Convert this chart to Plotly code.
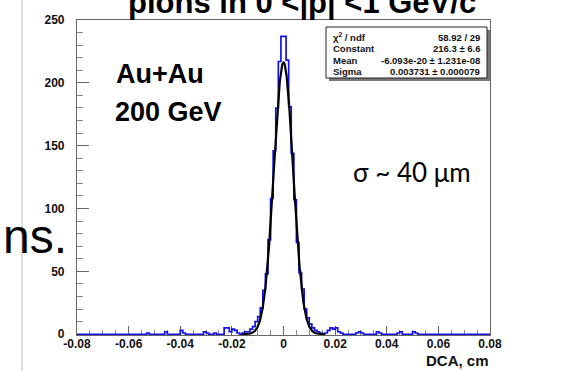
import numpy as np
import plotly.graph_objects as go

# ---------------- data ----------------
bin_low = -0.08
bin_width = 0.001
# histogram counts, left half (bins from -0.080 up to 0.000)
counts_left = [
    0, 0, 0, 0, 0, 0, 0, 0, 0, 0,
    0, 0, 0, 0, 0, 0, 0, 0, 0, 0,
    0, 0, 0, 0, 0, 0, 0, 1, 0, 0,
    0, 0, 0, 0, 2, 0, 0, 0, 0, 0,
    3, 1, 0, 0, 0, 0, 0, 0, 0, 2,
    1, 0, 0, 1, 0, 0, 0, 5, 5, 2,
    4, 3, 1, 0, 1, 2, 2, 4, 6, 10,
    14, 21, 35, 48, 75, 108, 146, 180, 217, 237,
]
# histogram counts, right half (bins from 0.000 up to 0.080)
counts_right = [
    237, 218, 181, 144, 107, 73, 49, 36, 20, 13,
    8, 5, 3, 2, 1, 0, 1, 3, 5, 4,
    5, 2, 1, 0, 0, 0, 0, 0, 1, 2,
    1, 0, 0, 0, 0, 0, 2, 1, 0, 0,
    0, 0, 0, 0, 1, 2, 0, 0, 0, 0,
    2, 1, 0, 0, 0, 0, 0, 0, 0, 0,
    0, 0, 0, 0, 0, 0, 0, 0, 0, 0,
    0, 0, 0, 0, 0, 0, 0, 0, 0, 0,
]
# gaussian fit parameters
fit_constant = 216.3
fit_mean = -6.093e-20
fit_sigma = 0.003731
fit_range = [-0.016, 0.016]

x_tickvals = [-0.08, -0.06, -0.04, -0.02, 0, 0.02, 0.04, 0.06, 0.08]
x_ticktext = ["-0.08", "-0.06", "-0.04", "-0.02", "0", "0.02", "0.04", "0.06", "0.08"]
y_tickvals = [0, 50, 100, 150, 200, 250]
y_ticktext = ["0", "50", "100", "150", "200", "250"]

stat_names = ["\u03c7<sup>2</sup> / ndf", "Constant", "Mean", "Sigma"]
stat_values = ["58.92 / 29", "216.3 \u00b1 6.6", "-6.093e-20 \u00b1 1.231e-08", "0.003731 \u00b1 0.000079"]

# ---------------- layout helpers ----------------
W, H = 562, 371
L, R, T, B = 77, 490, 20, 335


def px(x):
    return (x - L) / (R - L)


def py(y):
    return (B - y) / (B - T)


counts = counts_left + counts_right
edges = [bin_low + bin_width * i for i in range(len(counts) + 1)]
hx = edges
hy = counts + [counts[-1]]

fx = np.linspace(fit_range[0], fit_range[1], 400)
fy = fit_constant * np.exp(-0.5 * ((fx - fit_mean) / fit_sigma) ** 2)

fig = go.Figure()
fig.add_trace(go.Scatter(x=hx, y=hy, mode="lines", line=dict(color="#1010ee", width=1.7, shape="hv"),
                         hoverinfo="skip"))
fig.add_trace(go.Scatter(x=fx, y=fy, mode="lines", line=dict(color="#000000", width=2.2),
                         hoverinfo="skip"))

font_b = "Liberation Sans"
axis_col = "#666666"

fig.update_layout(
    width=W, height=H,
    margin=dict(l=L, r=W - R, t=T, b=H - B, pad=0),
    paper_bgcolor="white", plot_bgcolor="white",
    showlegend=False,
    xaxis=dict(range=[-0.08, 0.08], showgrid=False, zeroline=False,
               showline=True, linecolor=axis_col, linewidth=1.2, mirror=True,
               ticks="inside", ticklen=9, tickwidth=1.2, tickcolor=axis_col,
               tickvals=x_tickvals, ticktext=x_ticktext,
               minor=dict(ticks="inside", ticklen=5, tickwidth=1, tickcolor="#888888", dtick=0.005, tick0=-0.08, showgrid=False),
               tickfont=dict(family=font_b, size=12, color="#111111", weight="bold"),
               ticklabelstandoff=-3,
               layer="below traces"),
    yaxis=dict(range=[-0.6, 250], showgrid=False, zeroline=False,
               showline=True, linecolor=axis_col, linewidth=1.2, mirror=True,
               ticks="inside", ticklen=12, tickwidth=1.2, tickcolor=axis_col,
               tickvals=y_tickvals, ticktext=y_ticktext,
               minor=dict(ticks="inside", ticklen=6, tickwidth=1, tickcolor="#888888", dtick=10, tick0=0, showgrid=False),
               tickfont=dict(family=font_b, size=12, color="#111111", weight="bold"),
               ticklabelstandoff=9,
               layer="below traces"),
)

shapes = []
# slide border line on left
shapes.append(dict(type="line", xref="paper", yref="paper", x0=px(22), x1=px(22), y0=py(0), y1=py(371),
                   line=dict(color="#c8c8c8", width=1.2)))
# stats box shadow and box
bx0, bx1, by0, by1 = 326, 487, 27, 78
shapes.append(dict(type="rect", xref="paper", yref="paper", x0=px(bx0 + 3), x1=px(bx1 + 3), y0=py(by1 + 3), y1=py(by0 + 3),
                   line=dict(width=0), fillcolor="#777777"))
shapes.append(dict(type="rect", xref="paper", yref="paper", x0=px(bx0), x1=px(bx1), y0=py(by1), y1=py(by0),
                   line=dict(color="#222222", width=1), fillcolor="white"))
fig.update_layout(shapes=shapes)

ann = []
# title (cut off at top)
ann.append(dict(text="<b>pions in 0 &lt;|p| &lt;1 GeV/c</b>", x=px(302), y=py(22), xref="paper", yref="paper",
                xanchor="center", yanchor="bottom", showarrow=False,
                font=dict(family=font_b, size=31, color="#000000")))
ann.append(dict(text="<b>Au+Au</b>", x=px(160), y=py(74), xref="paper", yref="paper",
                xanchor="center", yanchor="middle", showarrow=False,
                font=dict(family=font_b, size=27, color="#000000")))
ann.append(dict(text="<b>200 GeV</b>", x=px(168), y=py(112), xref="paper", yref="paper",
                xanchor="center", yanchor="middle", showarrow=False,
                font=dict(family=font_b, size=27, color="#000000")))
ann.append(dict(text="\u03c3 ~ 40 \u03bcm", x=px(412), y=py(172), xref="paper", yref="paper",
                xanchor="center", yanchor="middle", showarrow=False,
                font=dict(family="Lato", size=26, color="#000000")))
ann.append(dict(text="ns.", x=px(69), y=py(236), xref="paper", yref="paper",
                xanchor="right", yanchor="middle", showarrow=False,
                font=dict(family="Liberation Sans", size=48, color="#000000")))
ann.append(dict(text="<b>DCA, cm</b>", x=px(491), y=py(360), xref="paper", yref="paper",
                xanchor="right", yanchor="middle", showarrow=False,
                font=dict(family=font_b, size=15, color="#111111")))
row_y = [37, 48.5, 60, 71.5]
for name, val, ry in zip(stat_names, stat_values, row_y):
    ann.append(dict(text="<b>" + name + "</b>", x=px(bx0 + 5), y=py(ry), xref="paper", yref="paper",
                    xanchor="left", yanchor="middle", showarrow=False,
                    font=dict(family=font_b, size=9.5, color="#111111")))
    ann.append(dict(text="<b>" + val + "</b>", x=px(bx1 - 5), y=py(ry), xref="paper", yref="paper",
                    xanchor="right", yanchor="middle", showarrow=False,
                    font=dict(family=font_b, size=9.5, color="#111111")))
fig.update_layout(annotations=ann)

fig.write_html("out.html")
